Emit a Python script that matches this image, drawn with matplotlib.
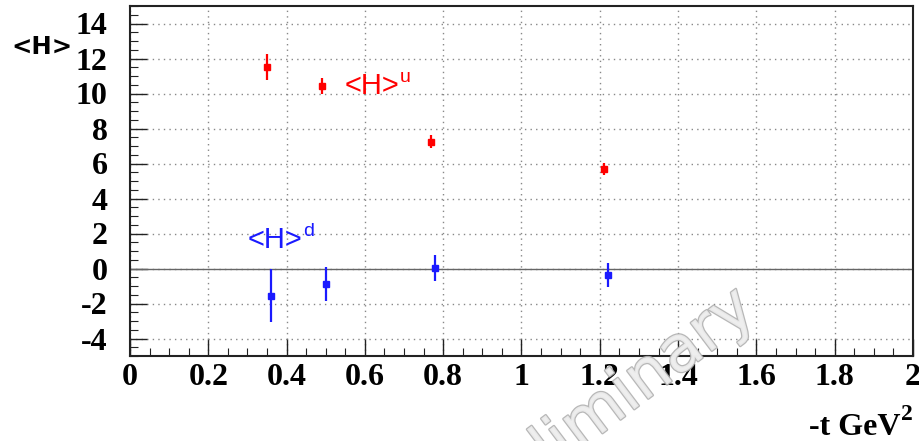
import matplotlib
matplotlib.use("Agg")
import matplotlib.pyplot as plt
import matplotlib.patheffects as pe
from matplotlib.ticker import FixedLocator, MultipleLocator

plt.rcParams["axes.unicode_minus"] = False

# <H>^u and <H>^d versus -t
t_u = [0.35, 0.49, 0.77, 1.21]
h_u = [11.5, 10.45, 7.25, 5.7]
err_u = [0.75, 0.45, 0.37, 0.33]

t_d = [0.36, 0.50, 0.78, 1.22]
h_d = [-1.55, -0.88, 0.03, -0.38]
err_d = [1.5, 0.95, 0.75, 0.7]

x_ticks = [0.0, 0.2, 0.4, 0.6, 0.8, 1.0, 1.2, 1.4, 1.6, 1.8, 2.0]
x_tick_labels = ["0", "0.2", "0.4", "0.6", "0.8", "1", "1.2", "1.4", "1.6", "1.8", "2"]
y_ticks = [-4, -2, 0, 2, 4, 6, 8, 10, 12, 14]
y_tick_labels = ["-4", "-2", "0", "2", "4", "6", "8", "10", "12", "14"]

W, H = 920, 441
fig = plt.figure(figsize=(W / 100, H / 100), dpi=100)
fig.patch.set_facecolor("white")
ax = fig.add_axes([130 / W, 1 - 356 / H, 783 / W, 350 / H])

ax.set_xlim(0, 2)
ax.set_ylim(-5, 15)

serif_bold = dict(family="Liberation Serif", weight="bold", size=23)

ax.xaxis.set_major_locator(FixedLocator(x_ticks))
ax.set_xticklabels(x_tick_labels, fontdict=serif_bold)
ax.yaxis.set_major_locator(FixedLocator(y_ticks))
ax.set_yticklabels(y_tick_labels, fontdict=serif_bold)
ax.xaxis.set_minor_locator(MultipleLocator(0.05))
ax.yaxis.set_minor_locator(MultipleLocator(0.5))

ax.tick_params(which="both", direction="in", top=False, right=False, color="#222222")
ax.tick_params(which="major", length=12, width=1.0)
ax.tick_params(which="minor", length=6, width=0.8)
ax.tick_params(axis="x", which="major", pad=5)
ax.tick_params(axis="y", which="major", pad=16)

for s in ax.spines.values():
    s.set_linewidth(1.5)
    s.set_color("#222222")

ax.grid(True, which="major", linestyle=(0, (1, 3)), color="#888888", linewidth=1.0)
ax.set_axisbelow(True)
ax.axhline(0, color="#666666", linewidth=1.0, zorder=1.5)

ax.errorbar(t_u, h_u, yerr=err_u, fmt="s", color="#ff0000", markersize=4.5,
            elinewidth=1.6, capsize=0, zorder=3)
ax.errorbar(t_d, h_d, yerr=err_d, fmt="s", color="#1a1aff", markersize=4.5,
            elinewidth=1.6, capsize=0, zorder=3)

# series labels with superscripts
lab_u = ax.text(0.549, 10.0, "<H>", color="#ff0000", family="Liberation Sans",
                size=21, ha="left", va="baseline")
lab_d = ax.text(0.301, 1.2, "<H>", color="#1a1aff", family="Liberation Sans",
                size=21, ha="left", va="baseline")

fig.text(11 / W, 1 - 54 / H, "<H>", family="DejaVu Sans", weight="bold", size=17.5,
         ha="left", va="baseline")

sup2 = fig.text(913 / W, 1 - 420 / H, "2", family="Liberation Serif", weight="bold",
                size=17, ha="right", va="baseline")

fig.canvas.draw()
renderer = fig.canvas.get_renderer()

for lab, sup, col in [(lab_u, "u", "#ff0000"), (lab_d, "d", "#1a1aff")]:
    bb = lab.get_window_extent(renderer)
    x0, y0 = ax.transData.transform(lab.get_position())
    fig.text((bb.x1 + 0.5) / W, (y0 + 11) / H, sup, color=col,
             family="Liberation Sans", size=14, ha="left", va="baseline")

bb2 = sup2.get_window_extent(renderer)
fig.text((bb2.x0 - 1) / W, 1 - 435 / H, "-t GeV", family="Liberation Serif",
         weight="bold", size=23, ha="right", va="baseline")

# watermark
fig.text(758 / W, 1 - 316 / H, "Preliminary", family="DejaVu Sans", size=46,
         color="#eeeeee", rotation=37, rotation_mode="anchor", ha="right",
         va="baseline", zorder=10, alpha=0.9,
         path_effects=[pe.withStroke(linewidth=1.8, foreground="#b0b0b0")])

fig.savefig("out.png", dpi=100)
